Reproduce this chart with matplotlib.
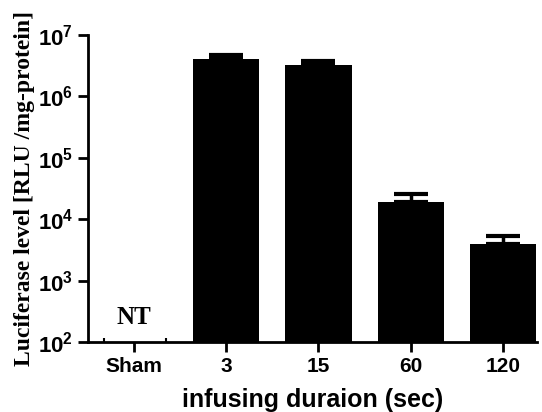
import numpy as np
import matplotlib
matplotlib.use("Agg")
import matplotlib.pyplot as plt
from matplotlib.ticker import FixedLocator, FixedFormatter

categories = ["Sham", "3", "15", "60", "120"]
means = [np.nan, 4.07e6, 3.24e6, 1.88e4, 3.95e3]
upper_err = [np.nan, 0.63e6, 0.56e6, 0.66e4, 1.35e3]

plt.rcParams.update({
    "font.family": "Liberation Sans",
    "font.weight": "bold",
    "mathtext.fontset": "custom",
    "mathtext.rm": "Liberation Sans:bold",
    "mathtext.bf": "Liberation Sans:bold",
    "mathtext.default": "bf",
    "axes.linewidth": 2.0,
})

fig = plt.figure(figsize=(5.42, 4.12), dpi=100)
ax = fig.add_axes([0.162, 0.170, 0.829, 0.745])

x = np.arange(len(categories))
ax.bar(x, means, width=0.72, color="black", zorder=2)
ax.errorbar(x, means, yerr=[np.zeros(len(x)), upper_err], fmt="none",
            ecolor="black", elinewidth=2.5, capsize=12, capthick=3, zorder=3)

ax.set_yscale("log")
ax.set_ylim(1e2, 1e7)
ax.set_xlim(-0.5, 4.37)
exps = [2, 3, 4, 5, 6, 7]
ax.yaxis.set_major_locator(FixedLocator([10.0 ** e for e in exps]))
ax.yaxis.set_major_formatter(FixedFormatter([r"$10^{%d}$" % e for e in exps]))
ax.yaxis.set_minor_locator(FixedLocator([]))
ax.set_xticks(x)
ax.set_xticklabels(categories)
ax.xaxis.set_minor_locator(FixedLocator([-0.32, 0.35]))
ax.tick_params(axis="x", which="minor", length=3, width=1.5, direction="in")

ax.tick_params(axis="both", which="major", length=7, width=2)
ax.tick_params(axis="x", which="major", labelsize=15)
ax.tick_params(axis="y", which="major", labelsize=16)
ax.spines["top"].set_visible(False)
ax.spines["right"].set_visible(False)

ax.text(0, 10 ** 2.4, "NT", ha="center", va="center", fontsize=18,
        family="Liberation Serif", fontweight="bold")

ax.set_xlabel("infusing duraion (sec)", fontsize=18, fontweight="bold", labelpad=9)
ax.set_ylabel("Luciferase level [RLU /mg-protein]", fontsize=17,
              family="Liberation Serif", fontweight="bold", labelpad=2)

plt.savefig("out.png", dpi=100)
